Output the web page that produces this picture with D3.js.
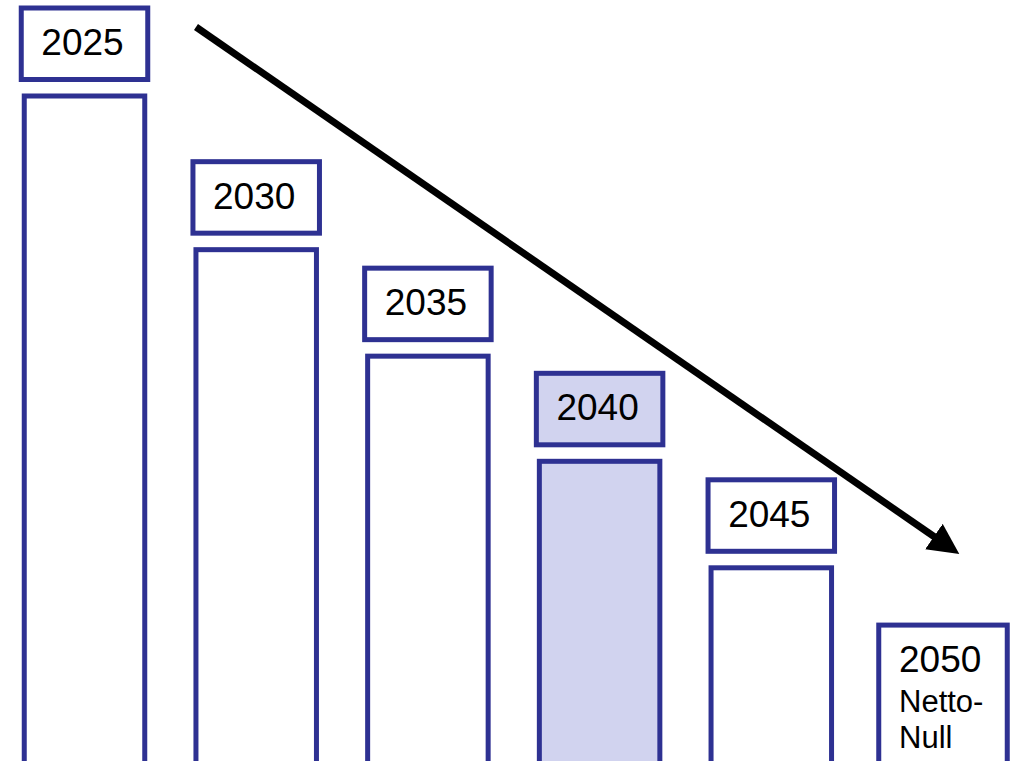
<!DOCTYPE html>
<html>
<head>
<meta charset="utf-8">
<script src="https://cdn.jsdelivr.net/npm/d3@7"></script>
<style>
  body { margin: 0; background: #fff; }
  svg { display: block; }
</style>
</head>
<body>
<script>
// chart data
var years = ["2025", "2030", "2035", "2040", "2045", "2050"];
var values = [100, 77.2, 61.4, 45.8, 30.0, 21.5];
var highlight = ["2040"];
var finalLines = ["Netto-", "Null"];

var width = 1013, height = 761;
var navy = "#2e3192", lilac = "#d1d3ef";

var svg = d3.select("body")
    .append("svg")
    .attr("width", width)
    .attr("height", height);

var x = d3.scalePoint()
    .domain(years)
    .range([84.5, 943]);

var y = d3.scaleLinear()
    .domain([0, 100])
    .range([770, 96]);

var barW = 120.5, boxW = 126.5, boxH = 71.5, gap = 88;

var last = years[years.length - 1];
var data = years.map(function(d, i) { return {year: d, value: values[i]}; });

// bars (all except the final year, which is only a label box)
svg.selectAll(".bar")
    .data(data.filter(function(d) { return d.year !== last; }))
    .enter().append("rect")
    .attr("class", "bar")
    .attr("x", function(d) { return x(d.year) - barW / 2; })
    .attr("y", function(d) { return y(d.value); })
    .attr("width", barW)
    .attr("height", function(d) { return y(0) - y(d.value); })
    .attr("fill", function(d) { return highlight.indexOf(d.year) >= 0 ? lilac : "#fff"; })
    .attr("stroke", navy)
    .attr("stroke-width", 5);

// year label boxes
var labels = svg.selectAll(".label")
    .data(data.filter(function(d) { return d.year !== last; }))
    .enter().append("g")
    .attr("class", "label");

labels.append("rect")
    .attr("x", function(d) { return x(d.year) - boxW / 2; })
    .attr("y", function(d) { return y(d.value) - gap; })
    .attr("width", boxW)
    .attr("height", boxH)
    .attr("fill", function(d) { return highlight.indexOf(d.year) >= 0 ? lilac : "#fff"; })
    .attr("stroke", navy)
    .attr("stroke-width", 5);

labels.append("text")
    .attr("x", function(d) { return x(d.year) - 2; })
    .attr("y", function(d) { return y(d.value) - gap + 47; })
    .attr("text-anchor", "middle")
    .attr("font-family", "Liberation Sans, Arial, sans-serif")
    .attr("font-size", 37)
    .attr("fill", "#000")
    .text(function(d) { return d.year; });

// final year: box with the target text inside
var fin = data[data.length - 1];
svg.append("rect")
    .attr("x", x(fin.year) - boxW / 2 - 1)
    .attr("y", y(fin.value))
    .attr("width", boxW + 2)
    .attr("height", 200)
    .attr("fill", "#fff")
    .attr("stroke", navy)
    .attr("stroke-width", 5);

svg.append("text")
    .attr("x", x(fin.year) - 44)
    .attr("y", y(fin.value) + 47)
    .attr("font-family", "Liberation Sans, Arial, sans-serif")
    .attr("font-size", 37)
    .text(fin.year);

svg.selectAll(".fin-line")
    .data(finalLines)
    .enter().append("text")
    .attr("class", "fin-line")
    .attr("x", x(fin.year) - 44)
    .attr("y", function(d, i) { return y(fin.value) + 87 + i * 36; })
    .attr("font-family", "Liberation Sans, Arial, sans-serif")
    .attr("font-size", 31)
    .text(function(d) { return d; });

// trend arrow
svg.append("defs").append("marker")
    .attr("id", "head")
    .attr("viewBox", "0 0 10 10")
    .attr("refX", 2)
    .attr("refY", 5)
    .attr("markerWidth", 4.4)
    .attr("markerHeight", 4.6)
    .attr("markerUnits", "strokeWidth")
    .attr("orient", "auto")
    .append("path")
    .attr("d", "M0,0 L10,5 L0,10 Z")
    .attr("fill", "#000");

svg.append("line")
    .attr("x1", 196)
    .attr("y1", 27)
    .attr("x2", 939)
    .attr("y2", 540)
    .attr("stroke", "#000")
    .attr("stroke-width", 7)
    .attr("marker-end", "url(#head)");
</script>
</body>
</html>
